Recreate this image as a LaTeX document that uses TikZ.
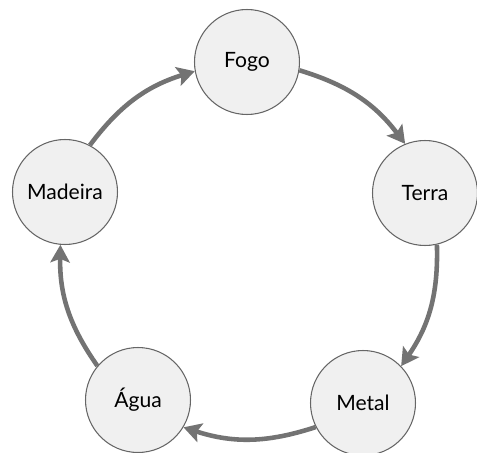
\documentclass[tikz,border=0pt]{standalone}
\usepackage{fontspec}
\setmainfont{Lato}
\usetikzlibrary{arrows.meta}
\tikzset{
    elem/.style={circle, draw=black!60, fill=gray!12, line width=0.6pt, minimum size=2.1cm, inner sep=0pt, font=\fontsize{12}{14}\selectfont},
    flow/.style={draw=black!55, line width=2.6pt, -{Stealth[length=10pt, width=11pt, inset=2pt]}, bend left=18},
}
\begin{document}
\begin{tikzpicture}[x=0.02cm, y=0.02cm]
    \useasboundingbox (0, 0) rectangle (477, -453);

    % elements
    \node[elem] (fogo) at (247, -62) {Fogo};
    \node[elem] (terra) at (425, -193) {Terra};
    \node[elem] (metal) at (363, -403) {Metal};
    \node[elem] (agua) at (138, -400) {Água};
    \node[elem] (madeira) at (65, -192) {Madeira};

    % cycle
    \draw[flow] (fogo.-9) to (terra.112);
    \draw[flow] (terra.-77) to (metal.44);
    \draw[flow] (metal.-153) to (agua.-31);
    \draw[flow] (agua.140) to (madeira.-95);
    \draw[flow] (madeira.62) to (fogo.190);
\end{tikzpicture}
\end{document}
